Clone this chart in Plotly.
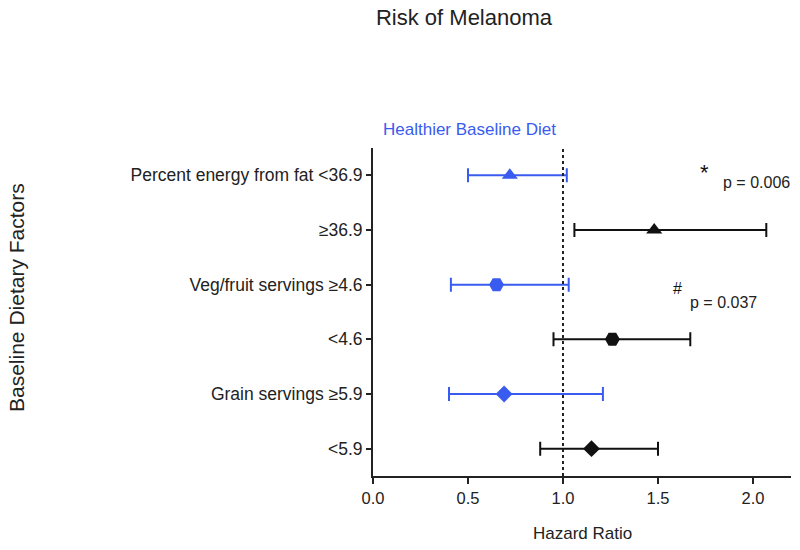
import plotly.graph_objects as go

labels = ["Percent energy from fat <36.9", "≥36.9", "Veg/fruit servings ≥4.6",
          "<4.6", "Grain servings ≥5.9", "<5.9"]
hr = [0.72, 1.48, 0.65, 1.26, 0.69, 1.15]
ci_low = [0.50, 1.06, 0.41, 0.95, 0.40, 0.88]
ci_high = [1.02, 2.07, 1.03, 1.67, 1.21, 1.50]
symbols = ["triangle-up", "triangle-up", "hexagon2", "hexagon2", "diamond", "diamond"]
marker_sizes = [14, 14, 15, 15, 13, 13]
healthier = [True, False, True, False, True, False]
x_ticks = [0.0, 0.5, 1.0, 1.5, 2.0]
x_tick_text = ["0.0", "0.5", "1.0", "1.5", "2.0"]

BLUE = "#3A5BEF"
BLACK = "#111111"
TXT = "#222222"
FONT = "Liberation Sans, Arial, sans-serif"

fig = go.Figure()
for i, lab in enumerate(labels):
    col = BLUE if healthier[i] else BLACK
    fig.add_trace(go.Scatter(
        x=[hr[i]], y=[i], mode="markers",
        marker=dict(symbol=symbols[i], size=marker_sizes[i], color=col),
        error_x=dict(type="data", symmetric=False,
                     array=[ci_high[i] - hr[i]], arrayminus=[hr[i] - ci_low[i]],
                     color=col, thickness=2, width=7),
        showlegend=False, hoverinfo="skip"))

fig.add_shape(type="line", xref="x", yref="paper", x0=1.0, x1=1.0, y0=0, y1=1,
              line=dict(color=TXT, width=2, dash="dot"))

ann = [
    dict(text="Healthier Baseline Diet", x=0.508, y=1.055, xref="x", yref="paper",
         xanchor="center", yanchor="middle",
         showarrow=False, font=dict(color=BLUE, size=17)),
    dict(text="*", x=1.745, y=-0.05, xref="x", yref="y", xanchor="center", yanchor="middle",
         showarrow=False, font=dict(size=22, color=BLACK)),
    dict(text="p = 0.006", x=1.832, y=0.135, xref="x", yref="y", xanchor="left",
         yanchor="middle", showarrow=False, font=dict(size=16, color=TXT)),
    dict(text="#", x=1.60, y=2.07, xref="x", yref="y", xanchor="center", yanchor="middle",
         showarrow=False, font=dict(size=16, color=BLACK)),
    dict(text="p = 0.037", x=1.657, y=2.32, xref="x", yref="y", xanchor="left",
         yanchor="middle", showarrow=False, font=dict(size=16, color=TXT)),
    dict(text="Hazard Ratio", x=0.5, y=-0.174, xref="paper", yref="paper",
         xanchor="center", yanchor="middle",
         showarrow=False, font=dict(size=17, color=TXT)),
    dict(text="Baseline Dietary Factors", x=-0.853, y=0.544, xref="paper", yref="paper",
         xanchor="center", yanchor="middle",
         textangle=-90, showarrow=False, font=dict(size=21, color=TXT)),
]

fig.update_layout(
    width=800, height=550,
    margin=dict(l=373, r=9, t=148, b=74),
    paper_bgcolor="white", plot_bgcolor="white",
    font=dict(family=FONT, color=TXT, size=17),
    title=dict(text="Risk of Melanoma", x=0.58, xanchor="center", y=0.969, yanchor="middle",
               font=dict(size=22, color=TXT)),
    annotations=ann,
    xaxis=dict(range=[0, 2.2], tickvals=x_ticks, ticktext=x_tick_text,
               showgrid=False, zeroline=False, showline=True, linecolor=TXT,
               linewidth=2, ticks="outside", ticklen=6, tickwidth=2, tickcolor=TXT,
               tickfont=dict(size=16.5)),
    yaxis=dict(range=[5.5, -0.5], tickvals=list(range(len(labels))), ticktext=labels,
               showgrid=False, zeroline=False, showline=True, linecolor=TXT,
               linewidth=2, ticks="outside", ticklen=5, tickwidth=2, tickcolor=TXT,
               tickfont=dict(size=17.5)),
)

fig.write_html("out.html", config={"displayModeBar": False},
               post_script="document.body.style.margin='0';document.body.style.padding='0';")
